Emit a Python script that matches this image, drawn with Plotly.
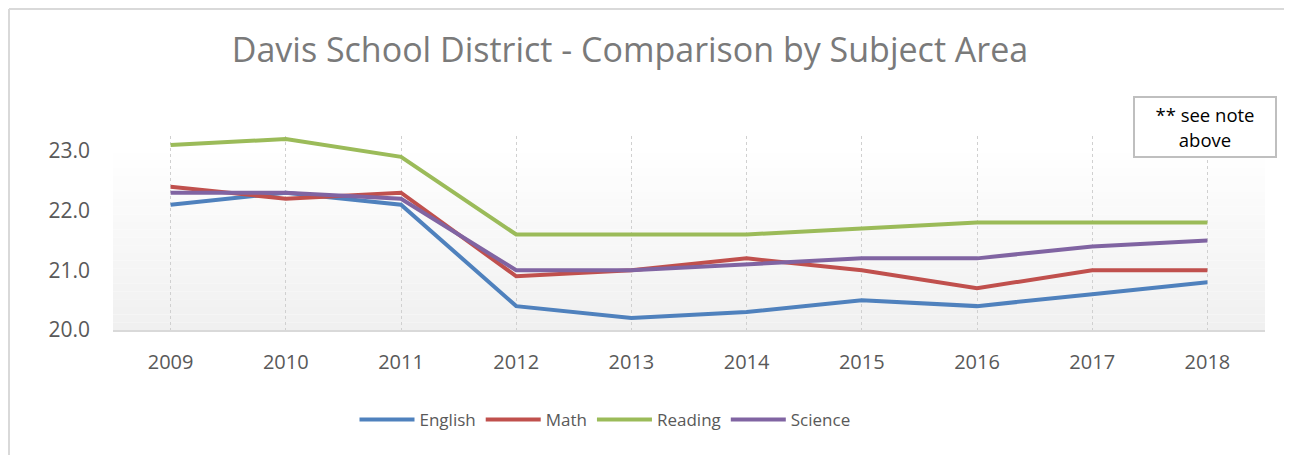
import plotly.graph_objects as go

years = ["2009", "2010", "2011", "2012", "2013", "2014", "2015", "2016", "2017", "2018"]
english = [22.1, 22.3, 22.1, 20.4, 20.2, 20.3, 20.5, 20.4, 20.6, 20.8]
math = [22.4, 22.2, 22.3, 20.9, 21.0, 21.2, 21.0, 20.7, 21.0, 21.0]
reading = [23.1, 23.2, 22.9, 21.6, 21.6, 21.6, 21.7, 21.8, 21.8, 21.8]
science = [22.3, 22.3, 22.2, 21.0, 21.0, 21.1, 21.2, 21.2, 21.4, 21.5]

series = [
    ("English", english, "#4f81bd"),
    ("Math", math, "#c0504d"),
    ("Reading", reading, "#9bbb59"),
    ("Science", science, "#8064a2"),
]

OFF = 8  # default page body margin
W, H = 1292 - OFF, 455 - OFF
L, R, T, B = 113 - OFF, 27, 136 - OFF, 125
pw, ph = W - L - R, H - T - B

def px(x):  # absolute page x -> paper
    return (x - OFF - L) / pw

def py(y):  # absolute page y -> paper
    return (OFF + H - B - y) / ph

fig = go.Figure()
for name, vals, color in series:
    fig.add_trace(go.Scatter(x=years, y=vals, name=name, mode="lines",
                             line=dict(color=color, width=4)))

shapes = []
n = 24
top = py(145)
for i in range(n):
    y0 = top * i / n
    y1 = top * (i + 1) / n
    t = i / (n - 1)
    c = int(round(0xf0 + (0xff - 0xf0) * t))
    shapes.append(dict(type="rect", xref="paper", yref="paper", x0=0, x1=1, y0=y0, y1=y1,
                       fillcolor=f"rgb({c},{c},{c})", line=dict(width=0), layer="below"))
shapes.append(dict(type="line", xref="paper", yref="paper", x0=px(9), x1=px(1300), y0=py(9), y1=py(9),
                   line=dict(color="#d9d9d9", width=2)))
shapes.append(dict(type="line", xref="paper", yref="paper", x0=px(9), x1=px(9), y0=py(9), y1=py(460),
                   line=dict(color="#d9d9d9", width=2)))

fig.update_layout(
    width=W, height=H,
    margin=dict(l=L, r=R, t=T, b=B),
    paper_bgcolor="white", plot_bgcolor="white",
    font=dict(family="Open Sans", color="#595959"),
    title=dict(text="Davis School District - Comparison by Subject Area",
               x=(630 - OFF) / W, xanchor="center", y=1 - (50 - OFF) / H, yanchor="middle",
               font=dict(size=34, color="#7a7a7a", family="Open Sans")),
    showlegend=True,
    legend=dict(orientation="h", x=px(605), xanchor="center", y=py(420), yanchor="middle",
                font=dict(size=17, color="#595959"), bgcolor="rgba(0,0,0,0)",
                itemwidth=55),
    shapes=shapes,
    annotations=[dict(text="** see note<br>above", xref="paper", yref="paper",
                      x=px(1205), y=py(127), xanchor="center", yanchor="middle",
                      showarrow=False, width=132, height=50, align="center",
                      bordercolor="#bfbfbf", borderwidth=2, borderpad=4, bgcolor="white",
                      font=dict(size=18.5, color="#000000", family="Open Sans"))],
)
fig.update_xaxes(type="category", range=[-0.5, len(years) - 0.5],
                 showgrid=True, gridcolor="#d0d0d0", griddash="dot", gridwidth=1,
                 showline=True, linecolor="#d9d9d9", linewidth=2, ticks="",
                 tickfont=dict(size=20, color="#595959"), ticklabelstandoff=13, zeroline=False)
fig.update_yaxes(range=[20, 23.25], tickvals=[20, 21, 22, 23], tickformat=".1f",
                 showgrid=False, zeroline=False, showline=False, ticks="",
                 tickfont=dict(size=21, color="#595959"), ticklabelstandoff=22)

fig.write_html("out.html")
